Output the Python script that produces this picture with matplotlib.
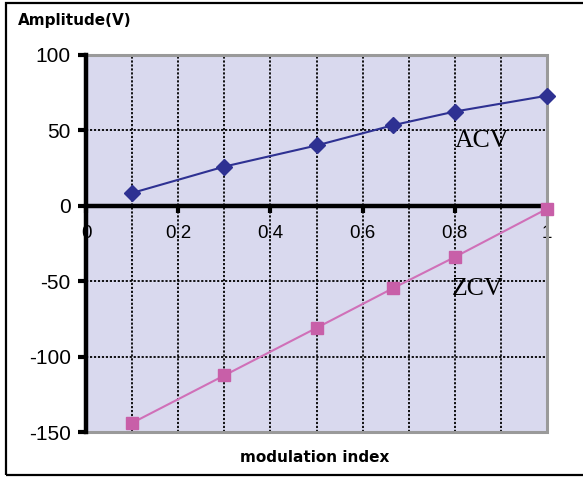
import matplotlib
matplotlib.use("Agg")
import matplotlib.pyplot as plt
from matplotlib.patches import Rectangle
from matplotlib.ticker import MultipleLocator

# Data
mod_index = [0.1, 0.3, 0.5, 0.667, 0.8, 1.0]
acv = [8.5, 26, 40, 53.5, 62.5, 73]
zcv = [-144, -112.5, -81, -54.5, -34, -2]
xtick_vals = [0, 0.2, 0.4, 0.6, 0.8, 1.0]
xtick_labels = ["0", "0.2", "0.4", "0.6", "0.8", "1"]
ytick_vals = [-150, -100, -50, 0, 50, 100]
ytick_labels = ["-150", "-100", "-50", "0", "50", "100"]

W, H = 583, 478
fig = plt.figure(figsize=(W / 100, H / 100), dpi=100)
fig.patch.set_facecolor("white")

# outer frame (right side runs off the image)
fig.patches.append(Rectangle((6 / W, 1 - 475 / H), 1.5, (475 - 3) / H,
                             transform=fig.transFigure, fill=False,
                             edgecolor="black", linewidth=1.6))

ax = fig.add_axes([86 / W, 1 - 432 / H, (547 - 86) / W, (432 - 55) / H])
ax.set_facecolor("#d9d9ee")
ax.set_xlim(0, 1)
ax.set_ylim(-150, 100)

# plot-area border (grey)
ax.add_patch(Rectangle((0, 0), 1, 1, transform=ax.transAxes, fill=False,
                       edgecolor="#9a9a9a", linewidth=2.2, clip_on=False, zorder=1.5))

for s in ["top", "right"]:
    ax.spines[s].set_visible(False)
ax.spines["left"].set_linewidth(3.2)
ax.spines["left"].set_color("black")
ax.spines["bottom"].set_position(("data", 0))
ax.spines["bottom"].set_linewidth(3.2)
ax.spines["bottom"].set_color("black")

ax.set_xticks(xtick_vals)
ax.set_xticklabels(xtick_labels, fontsize=13.5, family="Liberation Sans")
ax.xaxis.set_minor_locator(MultipleLocator(0.1))
ax.set_yticks(ytick_vals)
ax.set_yticklabels(ytick_labels, fontsize=15, family="Liberation Sans")

ax.tick_params(axis="x", which="major", direction="out", length=5, width=3, pad=9)
ax.tick_params(axis="x", which="minor", length=0)
ax.tick_params(axis="y", which="major", direction="out", length=6, width=3, pad=5)

ax.grid(True, axis="x", which="both", color="black", linestyle=(0, (1.2, 1.0)), linewidth=1.3)
ax.grid(True, axis="y", which="major", color="black", linestyle=(0, (1.2, 1.0)), linewidth=1.3)
ax.set_axisbelow(True)

ax.plot(mod_index, acv, color="#2e3192", linewidth=1.5, marker="D", markersize=8,
        markerfacecolor="#2e3192", markeredgecolor="#2e3192", clip_on=False, zorder=5)
ax.plot(mod_index, zcv, color="#d070b8", linewidth=1.5, marker="s", markersize=9,
        markerfacecolor="#c85fa8", markeredgecolor="#c85fa8", clip_on=False, zorder=5)

ax.text(0.859, 43, "ACV", fontsize=18.5, family="Liberation Serif", ha="center", va="center", zorder=6)
ax.text(0.85, -55, "ZCV", fontsize=18.5, family="Liberation Serif", ha="center", va="center", zorder=6)

fig.text(18 / W, 1 - 20 / H, "Amplitude(V)", fontsize=11, fontweight="bold",
         family="DejaVu Sans", ha="left", va="center")
fig.text(315 / W, 1 - 458 / H, "modulation index", fontsize=11, fontweight="bold",
         family="DejaVu Sans", ha="center", va="center")

fig.savefig("out.png", dpi=100)
